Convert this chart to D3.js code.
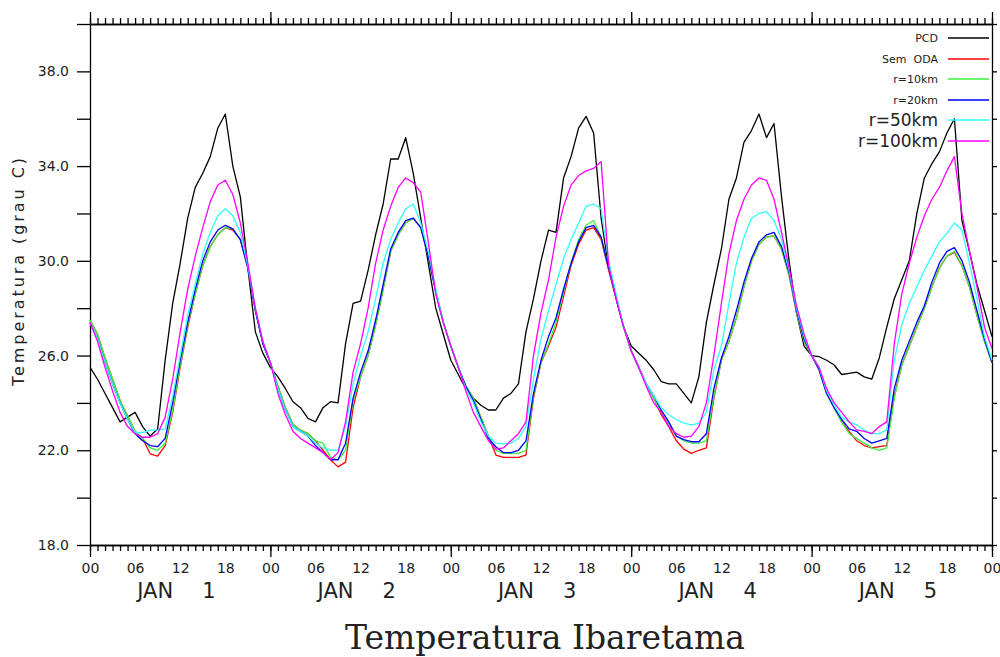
<!DOCTYPE html>
<html>
<head>
<meta charset="utf-8">
<script src="https://cdn.jsdelivr.net/npm/d3@7"></script>
<style>
  body { margin: 0; background: #fff; }
  svg { display: block; }
</style>
</head>
<body>
<svg id="chart"></svg>
<script>
// hourly values, JAN 1 00h .. JAN 6 00h (121 points)
var pcd = [
  25.5, 25.0, 24.4, 23.8, 23.2, 23.4, 23.6, 23.0, 22.6, 22.9, 25.8, 28.2, 29.9, 31.8, 33.1, 33.7, 34.4, 35.6, 36.2, 34.0, 32.7, 29.7, 27.0, 26.1,
  25.5, 25.1, 24.6, 24.05, 23.8, 23.35, 23.2, 23.8, 24.05, 24.0, 26.5, 28.2, 28.3, 29.6, 31.1, 32.4, 34.3, 34.3, 35.2, 33.7, 31.8, 29.9, 28.0, 26.9,
  25.8, 25.2, 24.6, 24.2, 23.9, 23.7, 23.7, 24.2, 24.4, 24.8, 27.0, 28.4, 30.0, 31.3, 31.2, 33.5, 34.4, 35.6, 36.1, 35.4, 31.8, 29.7, 28.4, 27.2,
  26.4, 26.1, 25.8, 25.4, 24.9, 24.8, 24.8, 24.4, 24.0, 25.1, 27.4, 29.0, 30.5, 32.6, 33.5, 35.0, 35.5, 36.2, 35.2, 35.8, 32.7, 30.0, 27.8, 26.4,
  26.0, 25.95, 25.8, 25.6, 25.2, 25.25, 25.3, 25.1, 25.0, 25.9, 27.2, 28.4, 29.2, 30.0, 32.0, 33.5, 34.1, 34.6, 35.4, 36.0, 31.7, 30.4, 29.0, 27.9, 26.8
];
var semOda = [
  27.5, 26.9, 25.9, 25.0, 24.1, 23.45, 22.8, 22.5, 21.85, 21.75, 22.2, 23.6, 25.5, 27.2, 28.6, 29.8, 30.6, 31.1, 31.4, 31.3, 30.9, 29.7, 27.9, 26.5,
  25.7, 24.7, 23.8, 23.1, 22.85, 22.7, 22.4, 22.0, 21.6, 21.3, 21.5, 23.8, 25.1, 26.0, 27.3, 28.8, 30.4, 31.1, 31.6, 31.8, 31.4, 30.2, 28.7, 27.4,
  26.4, 25.5, 24.7, 24.2, 23.4, 22.6, 21.8, 21.7, 21.7, 21.7, 21.8, 24.2, 25.7, 26.4, 27.2, 28.5, 29.8, 30.7, 31.3, 31.4, 30.9, 29.6, 28.4, 27.2,
  26.2, 25.5, 24.8, 24.2, 23.5, 23.0, 22.4, 22.05, 21.87, 22.0, 22.1, 24.2, 25.8, 26.6, 27.6, 28.9, 30.0, 30.7, 31.0, 31.05, 30.5, 29.4, 27.8, 26.6,
  26.0, 25.4, 24.4, 23.8, 23.2, 22.8, 22.4, 22.2, 22.1, 22.15, 22.2, 24.3, 25.6, 26.4, 27.2, 28.0, 28.9, 29.7, 30.2, 30.35, 29.8, 28.9, 27.7, 26.6, 25.7
];
var r10km = [
  27.5, 26.9, 25.9, 25.0, 24.1, 23.45, 22.8, 22.5, 22.1, 22.0, 22.3, 23.7, 25.6, 27.3, 28.6, 29.8, 30.6, 31.1, 31.4, 31.35, 30.9, 29.7, 27.9, 26.5,
  25.7, 24.7, 23.8, 23.1, 22.85, 22.7, 22.4, 22.3, 21.7, 21.6, 22.0, 24.1, 25.1, 26.0, 27.3, 28.8, 30.4, 31.1, 31.6, 31.8, 31.4, 30.2, 28.7, 27.4,
  26.4, 25.5, 24.7, 24.2, 23.4, 22.6, 22.0, 21.87, 21.87, 21.87, 22.0, 24.3, 25.7, 26.5, 27.4, 28.7, 29.9, 30.9, 31.5, 31.7, 31.0, 29.7, 28.4, 27.2,
  26.2, 25.5, 24.8, 24.2, 23.6, 23.1, 22.6, 22.4, 22.3, 22.3, 22.4, 24.3, 25.8, 26.6, 27.6, 28.9, 30.0, 30.7, 31.0, 31.05, 30.5, 29.4, 27.8, 26.6,
  26.0, 25.4, 24.4, 23.8, 23.2, 22.7, 22.5, 22.3, 22.1, 22.0, 22.1, 24.2, 25.6, 26.4, 27.2, 28.0, 28.9, 29.7, 30.2, 30.4, 29.8, 28.9, 27.7, 26.6, 25.7
];
var r20km = [
  27.4, 26.7, 25.7, 24.8, 24.0, 23.3, 22.7, 22.4, 22.2, 22.15, 22.5, 24.0, 25.8, 27.4, 28.8, 30.0, 30.8, 31.3, 31.5, 31.35, 30.9, 29.7, 27.9, 26.5,
  25.7, 24.6, 23.7, 23.0, 22.8, 22.6, 22.2, 21.9, 21.6, 21.6, 22.3, 24.2, 25.3, 26.2, 27.5, 29.0, 30.5, 31.2, 31.7, 31.8, 31.4, 30.2, 28.7, 27.4,
  26.4, 25.5, 24.7, 24.1, 23.3, 22.5, 22.15, 21.9, 21.9, 22.0, 22.4, 24.4, 25.8, 26.8, 27.6, 28.8, 29.9, 30.8, 31.4, 31.5, 31.0, 29.7, 28.4, 27.2,
  26.2, 25.5, 24.8, 24.3, 23.7, 23.2, 22.6, 22.45, 22.36, 22.36, 22.7, 24.6, 25.9, 26.8, 27.9, 29.1, 30.1, 30.8, 31.1, 31.2, 30.6, 29.5, 27.9, 26.7,
  26.0, 25.4, 24.4, 23.8, 23.3, 22.9, 22.8, 22.5, 22.3, 22.4, 22.5, 24.6, 25.8, 26.6, 27.4, 28.1, 29.1, 29.9, 30.4, 30.56, 30.0, 29.1, 27.9, 26.7, 25.7
];
var r50km = [
  27.4, 26.7, 25.7, 24.8, 24.0, 23.3, 22.75, 22.75, 22.85, 22.85, 22.9, 24.3, 26.0, 27.7, 29.0, 30.3, 31.2, 31.9, 32.2, 31.9, 31.2, 29.8, 28.0, 26.6,
  25.7, 24.6, 23.7, 23.0, 22.8, 22.6, 22.3, 22.1, 22.0, 22.0, 23.0, 24.8, 26.0, 27.0, 28.4, 29.9, 30.9, 31.6, 32.2, 32.4, 31.6, 30.4, 28.8, 27.4,
  26.4, 25.5, 24.6, 24.0, 23.2, 22.6, 22.3, 22.27, 22.3, 22.5, 23.0, 25.0, 26.7, 27.9, 29.0, 30.1, 30.9, 31.6, 32.3, 32.4, 32.2, 30.0, 28.6, 27.2,
  26.2, 25.5, 24.8, 24.3, 23.8, 23.5, 23.3, 23.15, 23.07, 23.14, 23.6, 25.4, 26.4, 28.2, 29.9, 31.0, 31.8, 32.0, 32.08, 31.7, 30.9, 29.6, 28.0, 26.8,
  26.0, 25.5, 24.5, 23.9, 23.4, 23.2, 23.07, 22.85, 22.7, 22.7, 22.86, 25.8, 27.3, 28.2, 28.9, 29.6, 30.2, 30.8, 31.16, 31.6, 31.3, 29.9, 28.4, 26.8, 25.8
];
var r100km = [
  27.4, 26.6, 25.5, 24.5, 23.6, 23.0, 22.7, 22.55, 22.55, 22.7, 23.4, 25.0, 27.0, 28.8, 30.2, 31.4, 32.5, 33.2, 33.4, 32.8, 31.6, 29.9, 28.0, 26.6,
  25.7, 24.4, 23.5, 22.8, 22.5, 22.3, 22.1, 21.9, 21.6, 21.9, 23.2, 25.3, 26.5, 28.0, 29.9, 31.3, 32.3, 33.1, 33.5, 33.3, 32.9, 30.8, 28.6, 27.4,
  26.4, 25.5, 24.5, 23.6, 23.0, 22.4, 22.05, 22.1, 22.4, 22.7, 23.2, 26.0, 27.8, 29.2, 31.0, 32.3, 33.2, 33.6, 33.8, 33.9, 34.2, 29.8, 28.4, 27.2,
  26.2, 25.5, 24.7, 24.0, 23.6, 23.0, 22.7, 22.55, 22.6, 23.0, 24.0, 26.0, 28.2, 30.3, 31.7, 32.6, 33.2, 33.5, 33.4, 32.6, 31.2, 29.7, 28.1, 26.9,
  26.0, 25.5, 24.6, 24.0, 23.6, 23.2, 22.86, 22.8, 22.7, 23.0, 23.2, 26.5, 28.6, 29.9, 31.0, 31.9, 32.6, 33.1, 33.8, 34.4, 32.0, 30.4, 28.9, 27.2, 26.3
];

var hourLabels = ['00', '06', '12', '18', '00', '06', '12', '18', '00', '06', '12', '18',
                  '00', '06', '12', '18', '00', '06', '12', '18', '00'];
var dayMonths = ['JAN', 'JAN', 'JAN', 'JAN', 'JAN'];
var dayNumbers = ['1', '2', '3', '4', '5'];
var yLabelValues = [18, 22, 26, 30, 34, 38];

var seriesNames = ['PCD', 'Sem  ODA', 'r=10km', 'r=20km', 'r=50km', 'r=100km'];
var seriesColors = ['#000000', '#ff0000', '#3cf03c', '#0000ff', '#33ffff', '#ff00ff'];
var seriesData = [pcd, semOda, r10km, r20km, r50km, r100km];

var width = 1000;
var height = 657;

var x = d3.scaleLinear().domain([0, 120]).range([90, 992]);
var y = d3.scaleLinear().domain([18, 40]).range([545, 24]);

var svg = d3.select('#chart')
    .attr('width', width)
    .attr('height', height)
    .style('font-family', '"DejaVu Sans", sans-serif');

svg.append('rect').attr('width', width).attr('height', height).attr('fill', '#fff');

function styleAxis(g) {
    g.selectAll('path, line').attr('stroke', '#000').attr('stroke-width', 1.3);
    g.selectAll('text').attr('fill', '#222').style('font-family', '"DejaVu Sans", sans-serif');
}

var hours = d3.range(0, 121);
var days = d3.range(0, 121, 24);

// bottom axis
svg.append('g').attr('transform', 'translate(0,545)')
    .call(d3.axisBottom(x).tickValues(hours).tickSize(6).tickSizeOuter(0).tickFormat(''))
    .call(styleAxis);
svg.append('g').attr('transform', 'translate(0,545)')
    .call(d3.axisBottom(x).tickValues(days).tickSize(12).tickSizeOuter(0).tickFormat(''))
    .call(styleAxis);
svg.append('g').attr('transform', 'translate(0,545)')
    .call(d3.axisBottom(x).tickValues(d3.range(0, 121, 6)).tickSize(0).tickPadding(18)
        .tickFormat(function(d, i) { return hourLabels[i]; }))
    .call(styleAxis)
    .call(function(g) { g.select('.domain').remove(); g.selectAll('text').attr('font-size', 14); });

// top axis
svg.append('g').attr('transform', 'translate(0,24)')
    .call(d3.axisTop(x).tickValues(hours).tickSize(6).tickSizeOuter(0).tickFormat(''))
    .call(styleAxis);
svg.append('g').attr('transform', 'translate(0,24)')
    .call(d3.axisTop(x).tickValues(days).tickSize(12).tickSizeOuter(0).tickFormat(''))
    .call(styleAxis);

// left axis
svg.append('g').attr('transform', 'translate(90,0)')
    .call(d3.axisLeft(y).tickValues(d3.range(18, 41, 2)).tickSize(13).tickSizeOuter(0).tickPadding(8)
        .tickFormat(function(d) { return yLabelValues.indexOf(d) >= 0 ? d3.format('.1f')(d) : ''; }))
    .call(styleAxis)
    .call(function(g) { g.selectAll('text').attr('font-size', 14); });

// right axis
svg.append('g').attr('transform', 'translate(992,0)')
    .call(d3.axisRight(y).tickValues(d3.range(18, 41, 2)).tickSize(5).tickSizeOuter(0).tickFormat(''))
    .call(styleAxis);

// day labels
var dayG = svg.append('g').attr('fill', '#222').attr('font-size', 21);
dayG.selectAll('text.month')
    .data(dayMonths)
    .enter().append('text')
    .attr('class', 'month')
    .attr('x', function(d, i) { return x(i * 24 + 12) - 43; })
    .attr('y', 598)
    .text(function(d) { return d; });
dayG.selectAll('text.num')
    .data(dayNumbers)
    .enter().append('text')
    .attr('class', 'num')
    .attr('x', function(d, i) { return x(i * 24 + 12) + 22; })
    .attr('y', 598)
    .text(function(d) { return d; });

// lines
var line = d3.line()
    .x(function(d, i) { return x(i); })
    .y(function(d) { return y(d); });

svg.append('g').selectAll('path')
    .data(seriesData)
    .enter().append('path')
    .attr('d', line)
    .attr('fill', 'none')
    .attr('stroke', function(d, i) { return seriesColors[i]; })
    .attr('stroke-width', 1.3)
    .attr('stroke-linejoin', 'round');

// legend
var legendY = [38, 59, 79, 100, 120, 141];
var legendSize = [11, 11, 11, 11, 17, 17];
var legend = svg.append('g');
seriesNames.forEach(function(name, i) {
    legend.append('line')
        .attr('x1', 948).attr('x2', 989)
        .attr('y1', legendY[i]).attr('y2', legendY[i])
        .attr('stroke', seriesColors[i])
        .attr('stroke-width', 1.5);
    legend.append('text')
        .attr('x', 938)
        .attr('y', legendY[i])
        .attr('dy', '0.36em')
        .attr('text-anchor', 'end')
        .attr('font-size', legendSize[i])
        .attr('fill', '#222')
        .style('white-space', 'pre')
        .text(name);
});

// y title
svg.append('text')
    .attr('transform', 'translate(24,272) rotate(-90)')
    .attr('text-anchor', 'middle')
    .attr('font-size', 16)
    .attr('fill', '#222')
    .attr('textLength', 228)
    .attr('lengthAdjust', 'spacing')
    .text('Temperatura (grau C)');

// title
svg.append('text')
    .attr('x', 545)
    .attr('y', 649)
    .attr('text-anchor', 'middle')
    .attr('font-size', 33)
    .attr('fill', '#222')
    .style('font-family', '"DejaVu Serif", serif')
    .text('Temperatura Ibaretama');
</script>
</body>
</html>
